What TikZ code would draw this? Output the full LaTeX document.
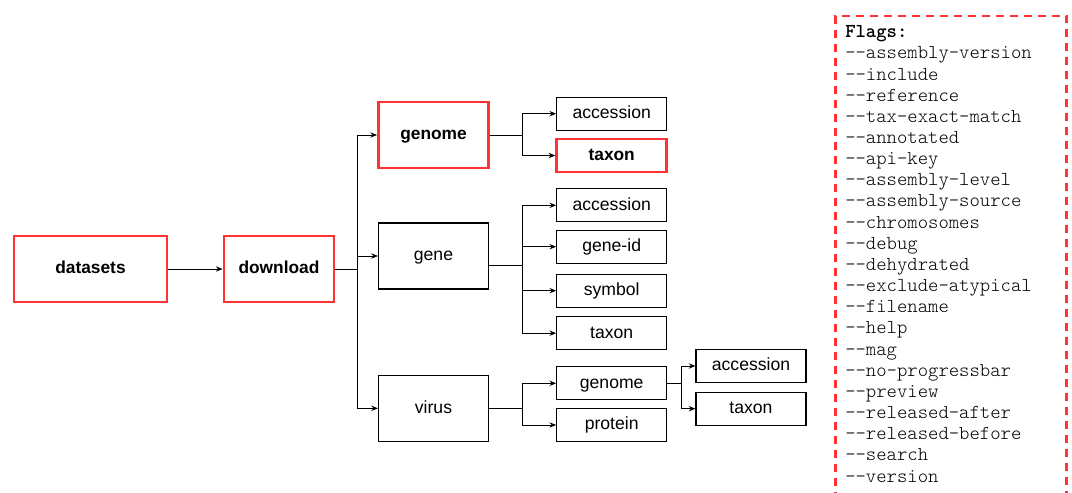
\documentclass[tikz,border=0pt]{standalone}
\usepackage{fontspec}
\setmainfont{Liberation Sans}
\newfontfamily\flagfont{Latin Modern Mono Light}
\usetikzlibrary{arrows.meta}
\definecolor{hred}{RGB}{255,51,51}
\tikzset{
  box/.style={draw=black, line width=0.8pt, minimum width=82.5pt, minimum height=49.5pt, inner sep=0pt, text height=9.6pt, text depth=2.4pt, font=\fontsize{13.2}{15}\selectfont},
  redbox/.style={box, draw=hred, line width=2.2pt, font=\fontsize{13}{15}\selectfont\bfseries},
  leaf/.style={box, minimum height=24.75pt},
  redleaf/.style={redbox, minimum height=24.75pt},
  conn/.style={line width=0.7pt, black},
  arr/.style={conn, -{Stealth[length=5pt,width=4pt]}},
  flagtxt/.style={inner sep=0pt, anchor=base west, font=\fontsize{14.8}{15}\flagfont}
}
\begin{document}
\begin{tikzpicture}[x=0.75pt,y=-0.75pt]
\useasboundingbox (0,0) rectangle (1072,493);
% top level
\node[redbox, minimum width=114.75pt] (datasets) at (90.5,269) {datasets};
\node[redbox] (download) at (279,269) {download};
\node[redbox] (genome) at (433.5,135) {genome};
\node[box] (gene) at (433.5,256) {gene};
\node[box] (virus) at (433.5,408.3) {virus};
% genome children
\node[leaf] (gacc) at (611.7,113.7) {accession};
\node[redleaf] (gtax) at (611.7,155.5) {taxon};
% gene children
\node[leaf] (eacc) at (611.7,205.3) {accession};
\node[leaf] (eid) at (611.7,246.7) {gene-id};
\node[leaf] (esym) at (611.7,290.7) {symbol};
\node[leaf] (etax) at (611.7,333.2) {taxon};
% virus children
\node[leaf] (vgen) at (611.7,383.3) {genome};
\node[leaf] (vprot) at (611.7,425) {protein};
\node[leaf] (vacc) at (751,366) {accession};
\node[leaf] (vtax) at (751,408.7) {taxon};
% connectors
\draw[arr] (datasets) -- (download);
\coordinate (trunk) at (357,269);
\draw[conn] (download.east) -- (trunk);
\draw[arr] (trunk) |- (genome.west);
\draw[arr] (trunk) |- (gene.west);
\draw[arr] (trunk) |- (virus.west);
\coordinate (gb) at (522,135);
\draw[conn] (genome.east) -- (gb);
\draw[arr] (gb) |- (gacc.west);
\draw[arr] (gb) |- (gtax.west);
\coordinate (eb) at (522,265);
\draw[conn] (eb -| gene.east) -- (eb);
\draw[arr] (eb) |- (eacc.west);
\draw[arr] (eb) |- (eid.west);
\draw[arr] (eb) |- (esym.west);
\draw[arr] (eb) |- (etax.west);
\coordinate (vb) at (522,408.3);
\draw[conn] (virus.east) -- (vb);
\draw[arr] (vb) |- (vgen.west);
\draw[arr] (vb) |- (vprot.west);
\coordinate (vgb) at (681,383.3);
\draw[conn] (vgen.east) -- (vgb);
\draw[arr] (vgb) |- (vacc.west);
\draw[arr] (vgb) |- (vtax.west);
% flags box
\draw[hred, line width=2.2pt, dash pattern=on 6pt off 4.5pt] (835.5,500) -- (835.5,16) -- (1066.5,16) -- (1066.5,500);
\node[flagtxt, font=\fontsize{14.8}{15}\flagfont\bfseries] (f0) at (845,37.7) {Flags:};
\foreach \t [count=\i] in {--assembly-version,--include,--reference,--tax-exact-match,--annotated,--api-key,--assembly-level,--assembly-source,--chromosomes,--debug,--dehydrated,--exclude-atypical,--filename,--help,--mag,--no-progressbar,--preview,--released-after,--released-before,--search,--version}
  \node[flagtxt] (f\i) at (845,{37.7+21.16*\i}) {\t};
\end{tikzpicture}
\end{document}
